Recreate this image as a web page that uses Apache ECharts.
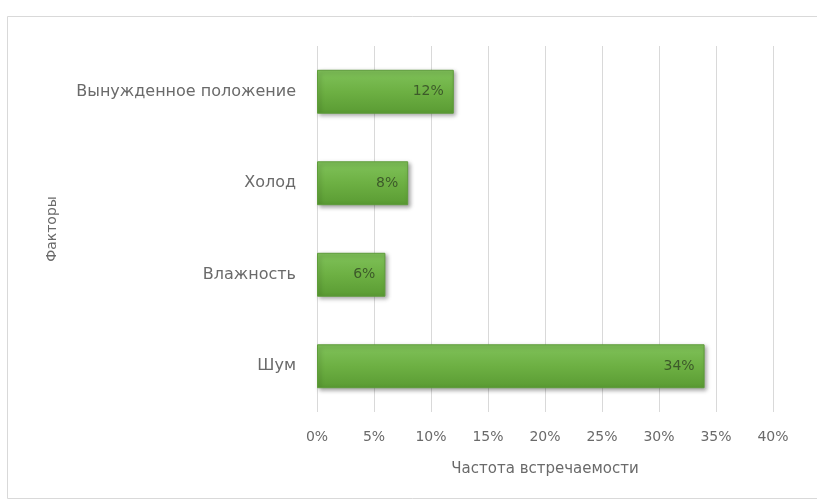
<!DOCTYPE html>
<html>
<head>
<meta charset="utf-8">
<script src="https://cdn.jsdelivr.net/npm/echarts@6/dist/echarts.min.js"></script>
<style>
  html, body { margin: 0; padding: 0; background: #fff; }
  #chart { width: 817px; height: 500px; }
</style>
</head>
<body>
<div id="chart"></div>
<script>
// Factors, listed bottom-to-top as drawn on the category axis
const categories = ['Шум', 'Влажность', 'Холод', 'Вынужденное положение'];
// Frequency of occurrence, percent
const frequency = [34, 6, 8, 12];
const xTicks = [0, 5, 10, 15, 20, 25, 30, 35, 40];

const chart = echarts.init(document.getElementById('chart'));
const textColor = '#6a6a6a';
const font = 'DejaVu Sans, sans-serif';

chart.setOption({
  animation: false,
  backgroundColor: '#ffffff',
  graphic: [{
    type: 'rect',
    shape: { x: 7.5, y: 16.5, width: 820, height: 482 },
    style: { fill: 'none', stroke: '#d9d9d9', lineWidth: 1 },
    z: 0
  }],
  grid: { left: 317, right: 44, top: 46, bottom: 88 },
  xAxis: {
    type: 'value',
    min: xTicks[0],
    max: xTicks[xTicks.length - 1],
    interval: 5,
    name: 'Частота встречаемости',
    nameLocation: 'middle',
    nameGap: 50,
    nameTextStyle: { color: textColor, fontSize: 15, fontFamily: font },
    axisLabel: { formatter: v => v + '%', color: textColor, fontSize: 14, fontFamily: font, margin: 18 },
    axisLine: { show: false },
    axisTick: { show: false },
    splitLine: { lineStyle: { color: '#d9d9d9', width: 1 } }
  },
  yAxis: {
    type: 'category',
    data: categories,
    name: 'Факторы',
    nameLocation: 'middle',
    nameGap: 258,
    nameRotate: 90,
    nameTextStyle: { color: textColor, fontSize: 14, fontFamily: font },
    axisLabel: { color: textColor, fontSize: 16, fontFamily: font, margin: 21 },
    axisLine: { show: false },
    axisTick: { show: false },
    splitLine: { show: false }
  },
  series: [{
    type: 'bar',
    data: frequency,
    barWidth: '48%',
    itemStyle: {
      color: new echarts.graphic.LinearGradient(0, 0, 0, 1, [
        { offset: 0, color: '#80c25a' },
        { offset: 0.5, color: '#6db043' },
        { offset: 1, color: '#5a9b33' }
      ]),
      borderColor: '#5e9c3a',
      borderWidth: 1,
      shadowColor: 'rgba(0,0,0,0.35)',
      shadowBlur: 4,
      shadowOffsetX: 2,
      shadowOffsetY: 2
    },
    label: {
      show: true,
      position: 'insideRight',
      distance: 10,
      formatter: p => p.value + '%',
      color: '#3d5a2a',
      fontSize: 14,
      fontFamily: font
    }
  }]
});
</script>
</body>
</html>
